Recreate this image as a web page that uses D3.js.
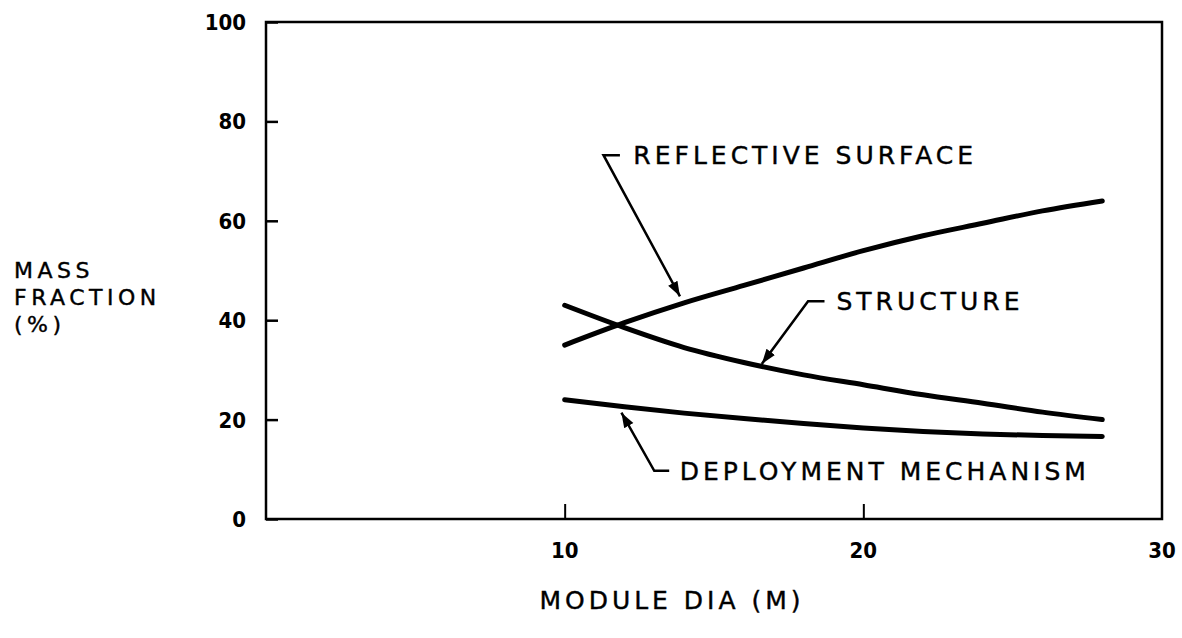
<!DOCTYPE html>
<head>
<meta charset="utf-8">
<style type="text/css">
body { margin: 0; background: white; }
text { font-family: "DejaVu Sans", sans-serif; fill: black; }
.tick-label { font-family: "DejaVu Sans Condensed", "DejaVu Sans", sans-serif; font-size: 22px; font-weight: bold; }
.note { font-size: 25px; letter-spacing: 4px; stroke: black; stroke-width: 0.4px; }
.ytitle { font-size: 22px; letter-spacing: 4.5px; stroke: black; stroke-width: 0.4px; }
.curve { fill: none; stroke: black; stroke-width: 5; stroke-linecap: round; }
.leader { fill: none; stroke: black; stroke-width: 2.5; }
</style>
</head>
<body>
<script src="https://cdn.jsdelivr.net/npm/d3@7"></script>
<script type="text/javascript">
  // module diameter (m)
  var dia = [10, 12, 14, 16, 18, 20, 22, 24, 26, 28];
  // mass fraction (%)
  var reflective = [35, 39.5, 43.5, 47, 50.5, 54, 57, 59.5, 62, 64];
  var structure = [43, 38.5, 34.5, 31.5, 29, 27, 25, 23.3, 21.5, 20];
  var deployment = [24, 22.6, 21.3, 20.2, 19.2, 18.3, 17.6, 17.1, 16.8, 16.6];

  var xTicks = [10, 20, 30];
  var yTicks = [0, 20, 40, 60, 80, 100];

  // callouts: label, arrow tip, elbow, start of the short dash (data units)
  var notes = [
    {text: 'REFLECTIVE SURFACE', tip: [13.86, 44.8], elbow: [11.3, 73.2], start: [11.85, 73.2], tx: 12.3},
    {text: 'STRUCTURE', tip: [16.6, 31.2], elbow: [18.15, 43.8], start: [18.7, 43.8], tx: 19.1},
    {text: 'DEPLOYMENT MECHANISM', tip: [11.9, 21.4], elbow: [13.0, 9.7], start: [13.5, 9.7], tx: 13.85}
  ];

  var svg = d3.select('body').append('svg')
          .attr('width', 1182)
          .attr('height', 638);

  var x = d3.scaleLinear().domain([0, 30]).range([266, 1162]);
  var y = d3.scaleLinear().domain([0, 100]).range([519, 22]);

  // frame
  svg.append('rect')
          .attr('x', x(0))
          .attr('y', y(100))
          .attr('width', x(30) - x(0))
          .attr('height', y(0) - y(100))
          .attr('fill', 'none')
          .attr('stroke', 'black')
          .attr('stroke-width', 2.5);

  // y ticks point inward
  var yAxis = svg.append('g')
          .attr('transform', 'translate(' + x(0) + ',0)')
          .call(d3.axisRight(y).tickValues(yTicks).tickSize(12).tickFormat(''));
  yAxis.select('.domain').remove();
  yAxis.selectAll('line').attr('stroke-width', 2.5);

  svg.selectAll('.ylab')
          .data(yTicks)
          .enter().append('text')
          .attr('class', 'tick-label')
          .attr('x', 246)
          .attr('y', function(d){ return y(d) + 8; })
          .attr('text-anchor', 'end')
          .text(function(d){ return d; });

  // x ticks point up
  var xAxis = svg.append('g')
          .attr('transform', 'translate(0,' + y(0) + ')')
          .call(d3.axisTop(x).tickValues([10, 20]).tickSize(15).tickFormat(''));
  xAxis.select('.domain').remove();
  xAxis.selectAll('line').attr('stroke-width', 2);

  svg.selectAll('.xlab')
          .data(xTicks)
          .enter().append('text')
          .attr('class', 'tick-label')
          .attr('x', function(d){ return x(d); })
          .attr('y', 558)
          .attr('text-anchor', 'middle')
          .text(function(d){ return d; });

  // axis titles
  svg.append('text')
          .attr('x', 672)
          .attr('y', 609)
          .attr('text-anchor', 'middle')
          .attr('class', 'note')
          .text('MODULE DIA (M)');

  ['MASS', 'FRACTION', '(%)'].forEach(function(s, i){
    svg.append('text')
            .attr('class', 'ytitle')
            .attr('x', 14)
            .attr('y', 278 + i * 27)
            .text(s);
  });

  // curves
  var line = d3.line()
          .x(function(d){ return x(d[0]); })
          .y(function(d){ return y(d[1]); })
          .curve(d3.curveMonotoneX);

  [reflective, structure, deployment].forEach(function(s){
    svg.append('path')
            .attr('class', 'curve')
            .attr('d', line(d3.zip(dia, s)));
  });

  // arrowhead
  svg.append('defs').append('marker')
          .attr('id', 'arrow')
          .attr('viewBox', '0 0 10 10')
          .attr('refX', 10).attr('refY', 5)
          .attr('markerWidth', 6).attr('markerHeight', 6)
          .attr('markerUnits', 'strokeWidth')
          .attr('orient', 'auto')
          .append('path')
          .attr('d', 'M0,1.5 L10,5 L0,8.5 Z')
          .attr('fill', 'black');

  notes.forEach(function(n){
    svg.append('path')
            .attr('class', 'leader')
            .attr('marker-end', 'url(#arrow)')
            .attr('d', d3.line()([
              [x(n.start[0]), y(n.start[1])],
              [x(n.elbow[0]), y(n.elbow[1])],
              [x(n.tip[0]), y(n.tip[1])]
            ]));
    svg.append('text')
            .attr('class', 'note')
            .attr('x', x(n.tx))
            .attr('y', y(n.start[1]) + 9)
            .text(n.text);
  });
</script>
</body>
